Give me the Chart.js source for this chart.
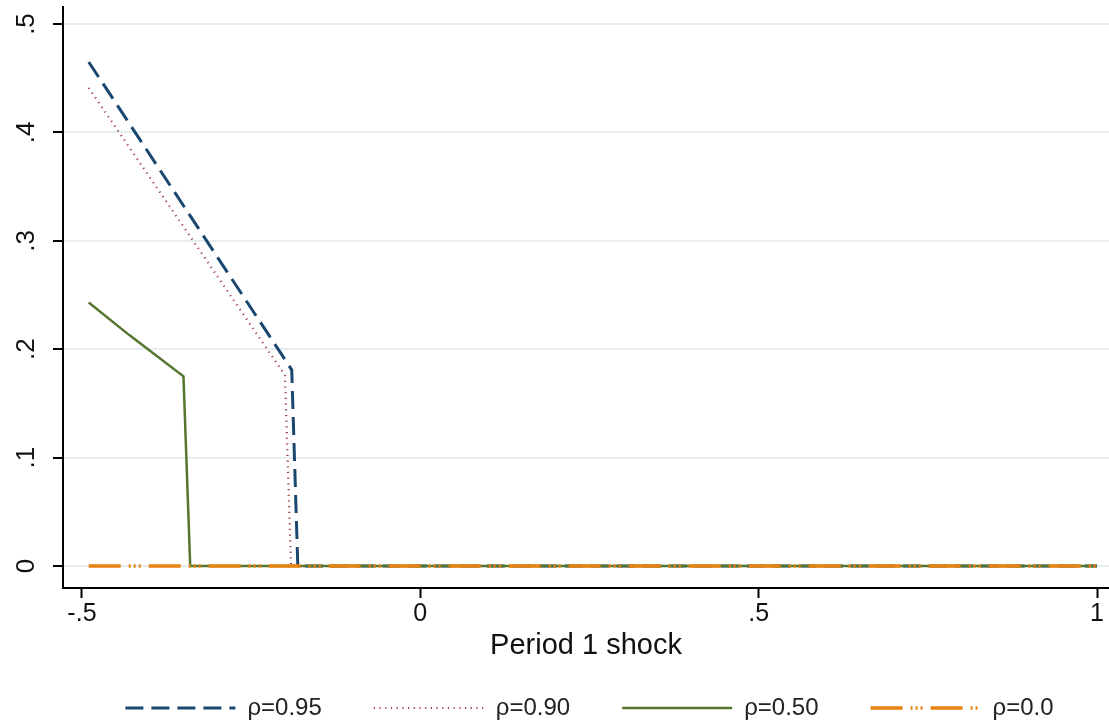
<!DOCTYPE html>
<html>
<head>
<meta charset="utf-8">
<script src="https://cdn.jsdelivr.net/npm/chart.js@4/dist/chart.umd.min.js"></script>
<style>
html,body{margin:0;padding:0;background:#fff;}
#wrap{width:1109px;height:722px;}
</style>
</head>
<body>
<div id="wrap"><canvas id="c" width="1109" height="722"></canvas></div>
<script>
// ---- data ----
const seriesLabels = ['\u03c1=0.95', '\u03c1=0.90', '\u03c1=0.50', '\u03c1=0.0'];
const rho95X = [-0.49, -0.19, -0.181, 1.0];
const rho95Y = [0.465, 0.181, 0.0, 0.0];
const rho90X = [-0.49, -0.20, -0.191, 1.0];
const rho90Y = [0.441, 0.176, 0.0, 0.0];
const rho50X = [-0.49, -0.43, -0.35, -0.34, 1.0];
const rho50Y = [0.243, 0.213, 0.175, 0.0, 0.0];
const rho00X = [-0.49, 1.0];
const rho00Y = [0.0, 0.0];
const xTickValues = [-0.5, 0, 0.5, 1];
const xTickLabels = ['-.5', '0', '.5', '1'];
const yTickValues = [0, 0.1, 0.2, 0.3, 0.4, 0.5];
const yTickLabels = ['0', '.1', '.2', '.3', '.4', '.5'];
const xTitle = 'Period 1 shock';

const pts = (xs, ys) => xs.map((x, i) => ({x: x, y: ys[i]}));

const FONT = "'Liberation Sans', Arial, sans-serif";

const shiftLegend = {
  id: 'shiftLegend',
  afterLayout(chart) {
    if (chart.legend) { chart.legend.left += 35; chart.legend.right += 35; }
  }
};

new Chart(document.getElementById('c'), {
  type: 'line',
  plugins: [shiftLegend],
  data: {
    datasets: [
      {label: seriesLabels[0], data: pts(rho95X, rho95Y), borderColor: '#1a476f', borderWidth: 3,
       borderDash: [18, 8], pointRadius: 0, tension: 0, order: 1},
      {label: seriesLabels[1], data: pts(rho90X, rho90Y), borderColor: '#a0404e', borderWidth: 2.2,
       borderDash: [1.2, 4.5], pointRadius: 0, tension: 0, order: 1},
      {label: seriesLabels[2], data: pts(rho50X, rho50Y), borderColor: '#55752f', borderWidth: 2.5,
       borderDash: [], pointRadius: 0, tension: 0, order: 0.5},
      {label: seriesLabels[3], data: pts(rho00X, rho00Y), borderColor: '#e8830f', borderWidth: 3.5,
       borderDash: [32, 8, 2, 3, 2, 3, 2, 8], pointRadius: 0, tension: 0, order: 0}
    ]
  },
  options: {
    responsive: false,
    animation: false,
    devicePixelRatio: 1,
    layout: {padding: {top: 7, right: 0, left: 0, bottom: -8}},
    plugins: {
      tooltip: {enabled: false},
      legend: {
        position: 'bottom',
        labels: {
          usePointStyle: true,
          pointStyle: 'line',
          pointStyleWidth: 110,
          padding: 52,
          color: '#222',
          font: {family: FONT, size: 24},
          sort: (a, b) => a.datasetIndex - b.datasetIndex,
          generateLabels: (chart) => {
            const items = Chart.defaults.plugins.legend.labels.generateLabels(chart);
            items.forEach(it => {
              const ds = chart.data.datasets[it.datasetIndex];
              it.lineDash = ds.borderDash;
              it.lineWidth = ds.borderWidth;
              it.strokeStyle = ds.borderColor;
              it.pointStyle = 'line';
            });
            return items;
          }
        }
      }
    },
    scales: {
      x: {
        type: 'linear',
        min: -0.528,
        max: 1.0177,
        afterBuildTicks: (s) => { s.ticks = xTickValues.map(v => ({value: v})); },
        afterFit: (s) => { s.height = 56; s.paddingLeft = 0; s.paddingRight = 0; },
        ticks: {
          autoSkip: false,
          maxRotation: 0,
          padding: 1,
          color: '#111',
          font: {family: FONT, size: 25},
          callback: (v) => { const i = xTickValues.indexOf(v); return i >= 0 ? xTickLabels[i] : ''; }
        },
        grid: {drawOnChartArea: false, tickLength: 10, tickColor: '#000', tickWidth: 2},
        border: {display: true, color: '#000', width: 2},
        title: {display: true, text: xTitle, color: '#111', font: {family: FONT, size: 29},
                padding: {top: 0, bottom: -19}}
      },
      y: {
        type: 'linear',
        min: -0.0203,
        max: 0.5157,
        afterBuildTicks: (s) => { s.ticks = yTickValues.map(v => ({value: v})); },
        afterFit: (s) => { s.width = 63; s.paddingTop = 0; s.paddingBottom = 0; },
        ticks: {
          autoSkip: false,
          minRotation: 90,
          maxRotation: 90,
          crossAlign: 'center',
          padding: 15,
          color: '#111',
          font: {family: FONT, size: 26},
          callback: (v) => { const i = yTickValues.indexOf(v); return i >= 0 ? yTickLabels[i] : ''; }
        },
        grid: {color: '#e6eef0', lineWidth: 2, tickLength: 10, tickColor: '#000', tickWidth: 2},
        border: {display: true, color: '#000', width: 2}
      }
    }
  }
});
</script>
</body>
</html>
